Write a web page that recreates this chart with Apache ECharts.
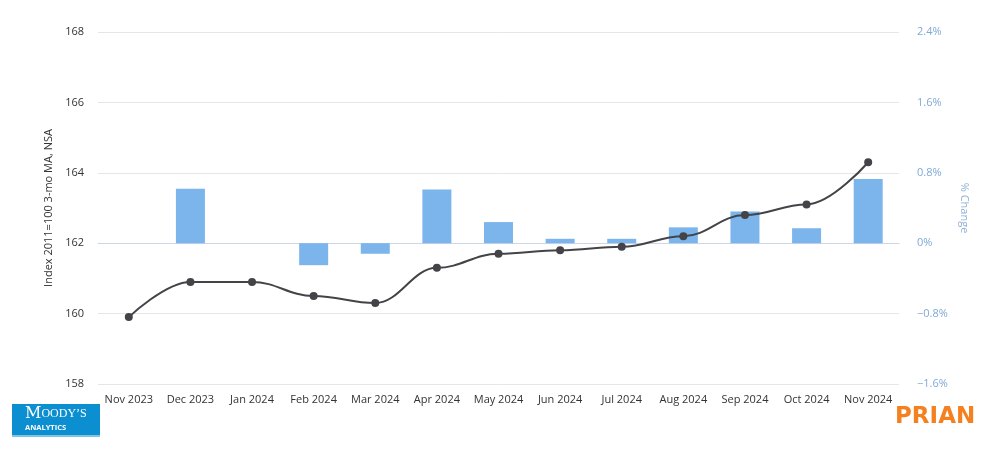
<!DOCTYPE html>
<html><head><meta charset="utf-8">
<script src="https://cdn.jsdelivr.net/npm/echarts@6/dist/echarts.min.js"></script>
<style>html,body{margin:0;padding:0;background:#fff}#c{width:997px;height:450px}</style>
</head><body><div id="c"></div>
<script>
const categories = ["Nov 2023","Dec 2023","Jan 2024","Feb 2024","Mar 2024","Apr 2024","May 2024","Jun 2024","Jul 2024","Aug 2024","Sep 2024","Oct 2024","Nov 2024"];
const indexValues = [159.9,160.9,160.9,160.5,160.3,161.3,161.7,161.8,161.9,162.2,162.8,163.1,164.3];
const pctChange = [null,0.62,0,-0.25,-0.12,0.61,0.24,0.05,0.05,0.18,0.36,0.17,0.73];
const leftName = "Index 2011=100 3-mo MA, NSA";
const rightName = "% Change";

const chart = echarts.init(document.getElementById('c'));
const font = "'Open Sans', 'DejaVu Sans', sans-serif";
chart.setOption({
  animation:false,
  textStyle:{fontFamily:font},
  grid:{left:98,right:98,top:32,bottom:66,containLabel:false},
  xAxis:{type:'category',data:categories,boundaryGap:true,
    axisLine:{lineStyle:{color:'#ccd6eb'}},axisTick:{show:false},
    axisLabel:{color:'#333',fontSize:11,margin:10,interval:0,fontFamily:font}},
  yAxis:[{type:'value',min:158,max:168,interval:2,position:'left',
    name:leftName,nameLocation:'middle',nameGap:38,nameRotate:90,
    nameTextStyle:{color:'#333',fontSize:11,fontFamily:font},
    axisLabel:{color:'#333',fontSize:11,margin:14,fontFamily:font},
    splitLine:{lineStyle:{color:'#e6e6e6'}},axisLine:{show:false},axisTick:{show:false}},
   {type:'value',min:-1.6,max:2.4,interval:0.8,position:'right',
    name:rightName,nameLocation:'middle',nameGap:43,nameRotate:-90,
    nameTextStyle:{color:'#8fb1d6',fontSize:11,fontFamily:font},
    axisLabel:{color:'#7fa8d8',fontSize:11,margin:18,fontFamily:font,
      formatter:v=>{const r=parseFloat(v.toFixed(1));return (r<0?'\u2212'+Math.abs(r):r)+'%';}},
    splitLine:{show:false},axisLine:{show:false},axisTick:{show:false}}],
  series:[
    {type:'bar',yAxisIndex:1,data:pctChange,barWidth:29,itemStyle:{color:'#7cb5ec'},z:1},
    {type:'line',yAxisIndex:0,data:indexValues,smooth:0.4,smoothMonotone:'x',
     symbol:'circle',symbolSize:8,lineStyle:{color:'#434348',width:2},
     itemStyle:{color:'#434348'},z:3}
  ],
  graphic:[
    {type:'rect',left:12,top:404,shape:{width:88,height:33},style:{fill:'#0b8fd0'}},
    {type:'rect',left:12,top:435,shape:{width:88,height:2},style:{fill:'#7fc3e6'}},
    {type:'text',left:25,top:406,style:{
      rich:{a:{fontSize:16,fill:'#fff',fontFamily:"'DejaVu Serif','Liberation Serif',serif"},
            b:{fontSize:12,fill:'#fff',fontFamily:"'Liberation Serif','DejaVu Serif',serif"}},
      text:"{a|M}{b|OODY\u2019S}"}},
    {type:'text',left:25,top:424,style:{text:"ANALYTICS",fill:'#fff',font:"bold 7.5px "+font}},
    {type:'text',left:895,top:406,style:{text:"PRIAN",fill:'#f4801f',font:"bold 23px 'DejaVu Sans', sans-serif"}}
  ]
});
</script></body></html>
